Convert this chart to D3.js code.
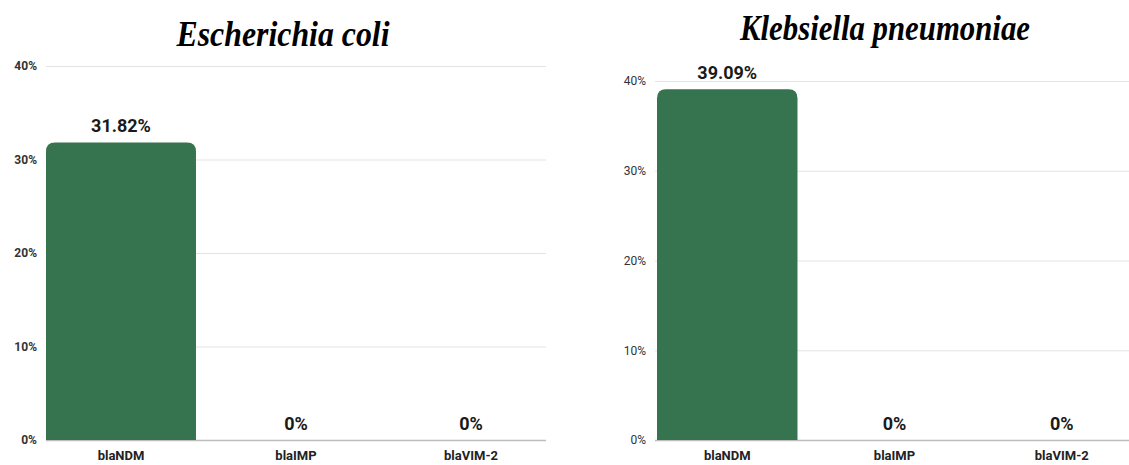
<!DOCTYPE html>
<html>
<head>
<meta charset="utf-8">
<script src="https://cdn.jsdelivr.net/npm/d3@7"></script>
<style>
  html, body { margin: 0; padding: 0; background: #fff; }
  svg { display: block; }
</style>
</head>
<body>
<svg id="chart" width="1129" height="465"></svg>
<script>
// Carbapenemase gene prevalence per organism
const genes = ["blaNDM", "blaIMP", "blaVIM-2"];
const ecoliValues = [31.82, 0, 0];
const klebsiellaValues = [39.09, 0, 0];
const yTicks = [0, 10, 20, 30, 40];
const organisms = ["Escherichia coli", "Klebsiella pneumoniae"];

const svg = d3.select("#chart");
const barColor = "#35744f";

function topRoundedBar(x, y, w, h, r) {
  r = Math.min(r, w / 2, h);
  if (h <= 0) return "";
  return `M${x},${y + h}V${y + r}Q${x},${y} ${x + r},${y}H${x + w - r}Q${x + w},${y} ${x + w},${y + r}V${y + h}Z`;
}

function drawPanel(cfg) {
  const g = svg.append("g");
  const y = d3.scaleLinear().domain([0, 40]).range([cfg.bottom, cfg.top]);
  const x = d3.scaleBand().domain(genes).range(cfg.xRange).paddingInner(cfg.pad).paddingOuter(0);

  // grid lines and y tick labels
  const yAxis = g.append("g")
    .attr("transform", `translate(${cfg.gridLeft},0)`)
    .call(d3.axisLeft(y).tickValues(yTicks).tickFormat(d => d + "%")
      .tickSize(-(cfg.gridRight - cfg.gridLeft)).tickPadding(cfg.labelPad));
  yAxis.select(".domain").remove();
  yAxis.selectAll(".tick line")
    .attr("stroke", d => d === 0 ? "#bdbdbd" : "#e3e3e3")
    .attr("stroke-width", d => d === 0 ? 1.5 : 1.2);
  yAxis.selectAll(".tick text")
    .attr("font-family", "Roboto, 'Liberation Sans', sans-serif")
    .attr("font-size", 12)
    .attr("font-weight", cfg.tickWeight)
    .attr("fill", "#333");

  // bars
  g.selectAll("path.bar")
    .data(cfg.values)
    .enter().append("path")
    .attr("class", "bar")
    .attr("fill", barColor)
    .attr("d", (d, i) => topRoundedBar(x(genes[i]), y(d), x.bandwidth(), y(0) - y(d), 9));

  // value labels
  g.selectAll("text.value")
    .data(cfg.values)
    .enter().append("text")
    .attr("class", "value")
    .attr("x", (d, i) => x(genes[i]) + x.bandwidth() / 2)
    .attr("y", d => y(d) - 10)
    .attr("text-anchor", "middle")
    .attr("font-family", "Roboto, 'Liberation Sans', sans-serif")
    .attr("font-size", 18)
    .attr("font-weight", "bold")
    .attr("fill", "#1a1a1a")
    .text(d => d + "%");

  // category axis
  const xAxis = g.append("g")
    .attr("transform", `translate(0,${cfg.bottom})`)
    .call(d3.axisBottom(x).tickSize(0).tickPadding(11));
  xAxis.select(".domain").remove();
  xAxis.selectAll(".tick text")
    .attr("font-family", "Roboto, 'Liberation Sans', sans-serif")
    .attr("font-size", 13)
    .attr("font-weight", "bold")
    .attr("fill", "#222");

  // title
  g.append("text")
    .attr("x", cfg.titleX)
    .attr("y", cfg.titleY)
    .attr("text-anchor", "middle")
    .attr("font-family", "'Liberation Serif', 'DejaVu Serif', serif")
    .attr("font-size", 36)
    .attr("font-weight", "bold")
    .attr("font-style", "italic")
    .attr("fill", "#000")
    .attr("textLength", cfg.titleWidth)
    .attr("lengthAdjust", "spacingAndGlyphs")
    .text(cfg.title);
}

drawPanel({
  title: organisms[0], values: ecoliValues,
  top: 66, bottom: 440, xRange: [46, 546], pad: 0.143,
  gridLeft: 46, gridRight: 546, labelPad: 9, tickWeight: "bold",
  titleX: 283, titleY: 46, titleWidth: 213
});

drawPanel({
  title: organisms[1], values: klebsiellaValues,
  top: 81, bottom: 440, xRange: [657, 1132], pad: 0.16,
  gridLeft: 655, gridRight: 1129, labelPad: 9, tickWeight: "normal",
  titleX: 885, titleY: 40, titleWidth: 290
});
</script>
</body>
</html>
